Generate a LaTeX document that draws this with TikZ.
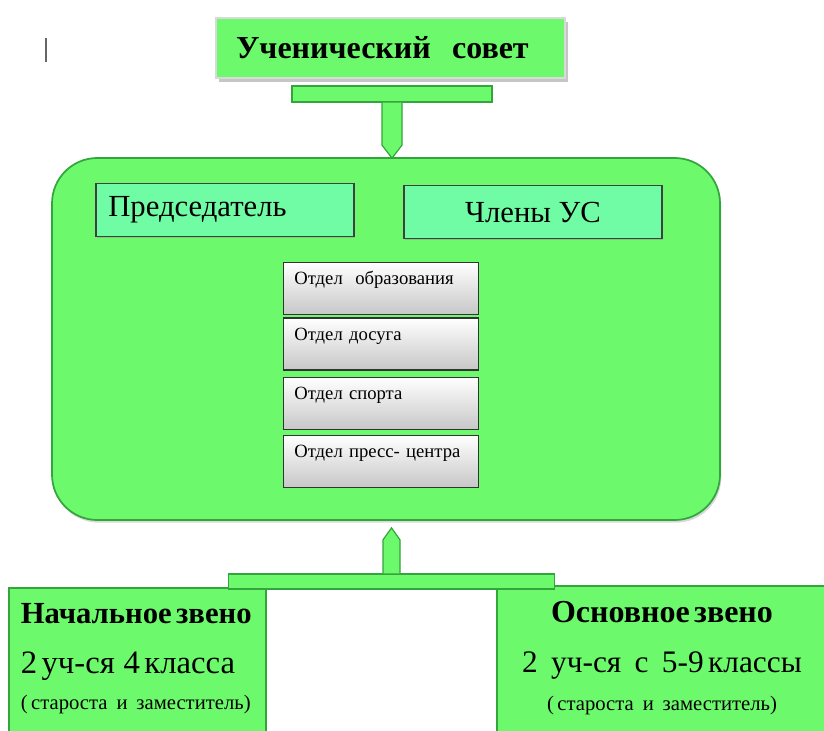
\documentclass[tikz,border=0pt]{standalone}
\usepackage{fontspec}
\setmainfont{Liberation Serif}
\usetikzlibrary{shadows}
\usetikzlibrary{calc}

\definecolor{usgreen}{RGB}{108,250,108}
\definecolor{usdark}{RGB}{50,165,60}
\definecolor{usmint}{RGB}{112,252,165}

\begin{document}
\begin{tikzpicture}[x=0.75pt,y=-0.75pt]
			\tikzset{board/.style={shape = rectangle, draw = usdark, fill = usgreen, line width = 1.3pt}}
			\tikzset{seat/.style={shape = rectangle, draw = black!75, fill = usmint, line width = 0.9pt,
					minimum width = 193.5pt, minimum height = 40pt, inner xsep = 9pt,
					drop shadow = {opacity = 0.35, shadow xshift = 1pt, shadow yshift = -1pt},
					font = \fontsize{23}{25}\selectfont}}
			\tikzset{dept/.style={shape = rectangle, draw = black!80, line width = 0.9pt,
					top color = white, middle color = white, bottom color = black!22,
					minimum width = 146pt, text width = 130pt, align = left, inner xsep = 8pt, inner ysep = 4pt,
					text height = 12.5pt, text depth = 18.5pt, font = \fontsize{14}{16}\selectfont}}
			\tikzset{link/.style={fill = usgreen, draw = usdark, line width = 0.9pt}}
			\useasboundingbox (0, 0) rectangle (824, 731);
			%cursor
			\draw[black!60, line width = 0.8pt] (46, 38) -- (46, 62);
			%boxes
			\node[board, draw = white!85!black, minimum width = 261.75pt, minimum height = 45pt,
				text width = 231.75pt, align = left, inner xsep = 15pt,
				drop shadow = {opacity = 0.45, shadow xshift = 2pt, shadow yshift = -3pt},
				font = \bfseries\fontsize{24}{26}\selectfont] (title) at (390.5, 48) {Ученический\ \ совет};
			\node[board, minimum width = 501pt, minimum height = 271.5pt, rounded corners = 34pt,
				drop shadow = {opacity = 0.3, shadow xshift = 1pt, shadow yshift = -2pt}] (main) at (386, 339) {};
			\node[seat, text width = 175pt, align = left] (chair) at (225, 210) {Председатель};
			\node[seat, align = center] (members) at (533, 212) {Члены УС};
			\node[dept] (edu) at (381, 288.5) {Отдел\ \ образования};
			\node[dept] (leisure) at (381, 344) {Отдел досуга};
			\node[dept] (sport) at (381, 403.5) {Отдел спорта};
			\node[dept] (press) at (381, 461.5) {Отдел пресс- центра};
			\node[board, anchor = north, minimum width = 192.75pt, minimum height = 111pt,
				text width = 175pt, align = left, inner xsep = 9pt] (junior) at (137.5, 587)
				{{\bfseries\fontsize{23}{26}\selectfont Начальное звено}\\[20.5pt]
				{\fontsize{24.5}{26}\selectfont 2 уч-ся\ \ 4 класса}\\[10pt]
				{\fontsize{15.5}{18}\selectfont (\,староста\ \ и\ \ заместитель)\rule[-8pt]{0pt}{0pt}}};
			\node[board, anchor = north, minimum width = 247.5pt, minimum height = 111pt,
				text width = 235pt, align = center] (senior) at (662, 585)
				{{\bfseries\fontsize{24}{26}\selectfont Основное звено}\\[21pt]
				{\fontsize{23.5}{26}\selectfont 2\ \ \ уч-ся\ \ \ с\ \ \ 5-9 классы}\\[12pt]
				{\fontsize{15.5}{18}\selectfont (\,староста\ \ и\ \ заместитель)\rule[-6pt]{0pt}{0pt}}};
			%connectors
			\node[link, shape = rectangle, minimum width = 150pt, minimum height = 12pt, inner sep = 0pt] (topbar) at (392, 94) {};
			\filldraw[link] ($(topbar.south) + (-10, 0)$) -- ($(topbar.south |- main.north) + (-10, -12)$)
				-- ($(topbar.south |- main.north) + (0, 1)$) -- ($(topbar.south |- main.north) + (10, -12)$)
				-- ($(topbar.south) + (10, 0)$);
			\node[link, shape = rectangle, minimum width = 245pt, minimum height = 11.25pt, inner sep = 0pt] (botbar) at (391.5, 581.5) {};
			\filldraw[link] ($(botbar.north) + (-8.5, 0)$) -- ($(botbar.north |- main.south) + (-8.5, 19)$)
				-- ($(botbar.north |- main.south) + (0, 7)$) -- ($(botbar.north |- main.south) + (8.5, 19)$)
				-- ($(botbar.north) + (8.5, 0)$);
		\end{tikzpicture}
\end{document}
